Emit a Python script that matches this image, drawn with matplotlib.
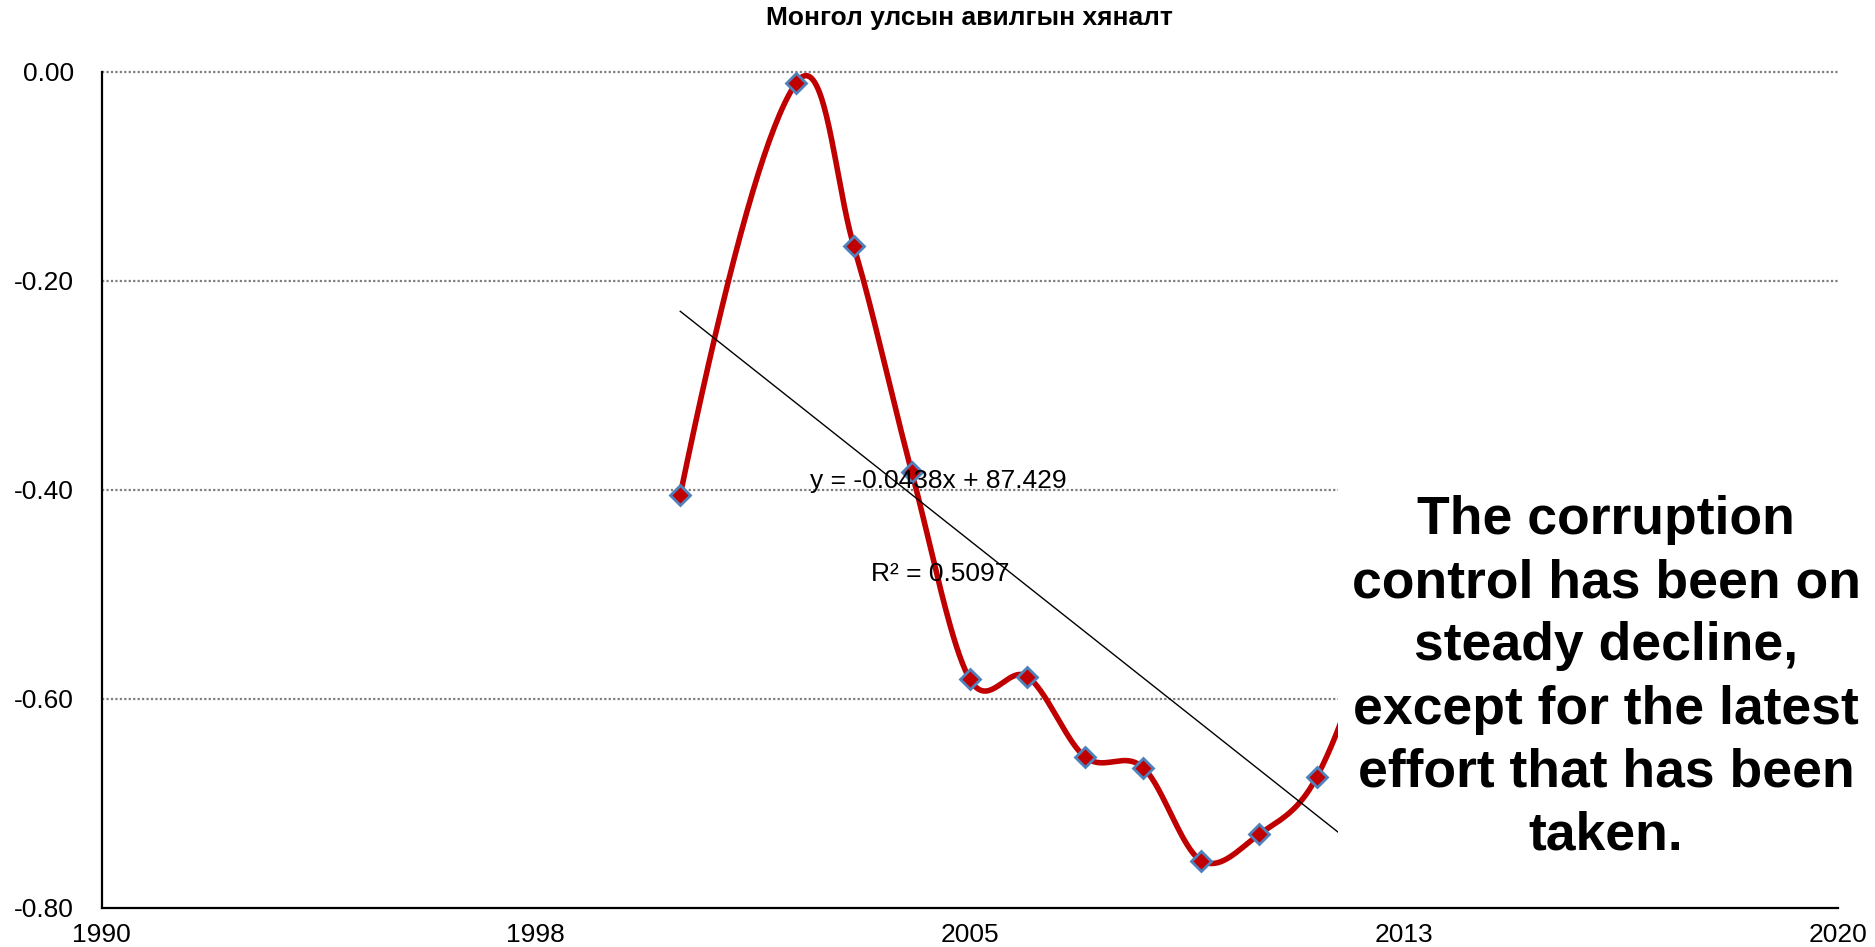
import numpy as np
import matplotlib
matplotlib.use('Agg')
import matplotlib.pyplot as plt
from matplotlib.patches import Rectangle

plt.rcParams['font.family'] = ['Liberation Sans', 'DejaVu Sans']
plt.rcParams['axes.unicode_minus'] = False

# data (2012 sits behind the text box)
years = [2000, 2002, 2003, 2004, 2005, 2006, 2007, 2008, 2009, 2010, 2011, 2012]
values = [-0.405, -0.011, -0.167, -0.383, -0.581, -0.579, -0.656, -0.666, -0.755, -0.730, -0.675, -0.52]
x_ticks = [1990, 1997.5, 2005, 2012.5, 2020]
x_labels = ['1990', '1998', '2005', '2013', '2020']
y_ticks = [0.0, -0.2, -0.4, -0.6, -0.8]
title = 'Монгол улсын авилгын хяналт'
eq_text = 'y = -0.0438x + 87.429'
r2_text = 'R² = 0.5097'
note = ('The corruption\ncontrol has been on\nsteady decline,\n'
        'except for the latest\neffort that has been\ntaken.')


def smooth(xs, ys, n=40):
    # excel-like smoothed line: catmull-rom as cubic bezier,
    # end tangents taken from a parabola through the last three points
    p = np.column_stack([xs, ys]).astype(float)
    m = len(p)
    tang = np.zeros_like(p)
    for i in range(1, m - 1):
        tang[i] = (p[i + 1] - p[i - 1]) / 2
    tang[0] = (-3 * p[0] + 4 * p[1] - p[2]) / 2
    tang[-1] = (3 * p[-1] - 4 * p[-2] + p[-3]) / 2
    pts = []
    for i in range(m - 1):
        p1, p2 = p[i], p[i + 1]
        c1 = p1 + tang[i] / 3
        c2 = p2 - tang[i + 1] / 3
        t = np.linspace(0, 1, n)[:, None]
        seg = (1 - t) ** 3 * p1 + 3 * (1 - t) ** 2 * t * c1 + 3 * (1 - t) * t ** 2 * c2 + t ** 3 * p2
        pts.append(seg if i == 0 else seg[1:])
    pts = np.vstack(pts)
    return pts[:, 0], pts[:, 1]


fig = plt.figure(figsize=(18.75, 9.47), dpi=100)
ax = fig.add_axes([0.0542, 0.0416, 0.9258, 0.8827])

sx, sy = smooth(years, values)
ax.plot(sx, sy, color='#C00000', lw=4, zorder=3, solid_capstyle='round')
ax.plot(years, values, linestyle='none', marker='D', markersize=10,
        markerfacecolor='#C00000', markeredgecolor='#4F81BD', markeredgewidth=2, zorder=4)

# linear trendline
k, b = np.polyfit(years, values, 1)
tx = np.array([years[0], years[-1]])
ax.plot(tx, k * tx + b, color='black', lw=1.0, zorder=3)

ax.text(2002.24, -0.392, eq_text, fontsize=19, va='center', ha='left', zorder=6)
ax.text(2003.29, -0.481, r2_text, fontsize=19, va='center', ha='left', zorder=6)

ax.set_xlim(1990, 2020)
ax.set_ylim(-0.8, 0.0)
ax.set_xticks(x_ticks)
ax.set_xticklabels(x_labels)
ax.set_yticks(y_ticks)
ax.set_yticklabels(['%.2f' % v for v in y_ticks])
ax.tick_params(axis='both', length=0, labelsize=19)
ax.tick_params(axis='y', pad=20)
ax.tick_params(axis='x', pad=11)

for v in y_ticks[:-1]:
    ax.axhline(v, color='#7f7f7f', lw=1.6, linestyle=(0, (1, 1)), zorder=1, clip_on=False)

for s in ['top', 'right']:
    ax.spines[s].set_visible(False)
for s in ['left', 'bottom']:
    ax.spines[s].set_linewidth(1.6)
    ax.spines[s].set_color('black')

fig.text(0.517, 0.981, title, fontsize=19, fontweight='bold', ha='center', va='center')

# white text box covering the right part of the plot
box = Rectangle((1338 / 1875, 1 - 890 / 947), 1 - 1338 / 1875, (890 - 470) / 947,
                transform=fig.transFigure, facecolor='white', edgecolor='none', zorder=5)
ax.add_artist(box)
box.set_clip_on(False)
ax.text(1606 / 1875, 1 - 678 / 947, note, transform=fig.transFigure, fontsize=38.5,
        fontweight='bold', ha='center', va='center', linespacing=1.335, zorder=6)

fig.savefig('out.png', dpi=100)
